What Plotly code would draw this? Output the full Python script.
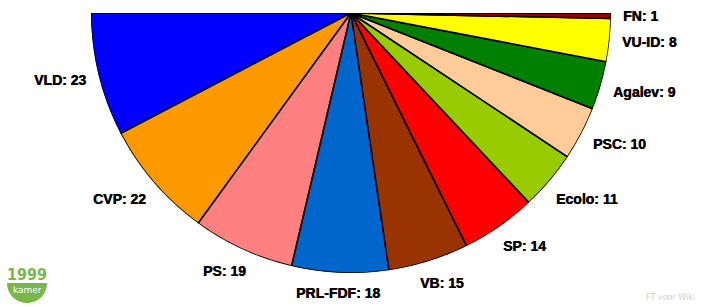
import plotly.graph_objects as go
import numpy as np

parties = ["VLD", "CVP", "PS", "PRL-FDF", "VB", "SP", "Ecolo", "PSC", "Agalev", "VU-ID", "FN"]
seats = [23, 22, 19, 18, 15, 14, 11, 10, 9, 8, 1]
colors = ["#0000FF", "#FF9900", "#FF8080", "#0066CC", "#993300", "#FF0000",
          "#99CC00", "#FFCC99", "#008000", "#FFFF00", "#990000"]

W, H = 703, 307
FONT = "Liberation Sans"
FONT_SIZE = 14
total = sum(seats)
deg_per = 180.0 / total
cum = np.concatenate([[0], np.cumsum(seats)[:-1]])
mids = 180 + (cum + np.array(seats) / 2.0) * deg_per
widths = np.array(seats) * deg_per

# pie geometry in pixels (polar domain)
PL, PR, PT = 91, 611, 13
R = (PR - PL) / 2.0
CX, CY = (PL + PR) / 2.0, PT

def px(x):
    return x / W

def py(y):
    return 1 - y / H

# approximate Liberation Sans Bold advance widths (em fraction) for label sizing
ADV = {"A": .722, "B": .722, "C": .722, "D": .722, "E": .667, "F": .611, "G": .778,
       "I": .278, "L": .611, "N": .722, "P": .667, "R": .722, "S": .667, "U": .722,
       "V": .667, "a": .556, "c": .556, "e": .556, "g": .611, "l": .278, "o": .611,
       "v": .556, ":": .333, " ": .278, "-": .333}

def text_w(s):
    return sum(ADV.get(c, .556) for c in s) * FONT_SIZE

fig = go.Figure()
fig.add_trace(go.Barpolar(
    r=[1] * len(seats), theta=mids, width=widths,
    marker=dict(color=colors, line=dict(color="black", width=1.6)),
    hoverinfo="skip", showlegend=False,
))

fig.update_layout(
    width=W, height=H, margin=dict(l=0, r=0, t=0, b=0),
    paper_bgcolor="white", plot_bgcolor="white",
    polar=dict(
        domain=dict(x=[px(PL), px(PR)], y=[py(PT + R), py(PT)]),
        sector=[180, 360], bgcolor="rgba(0,0,0,0)", hole=0,
        radialaxis=dict(visible=False, range=[0, 1]),
        angularaxis=dict(visible=False, direction="counterclockwise", rotation=0),
        bargap=0,
    ),
)

gap = 12
hh = 7
for p, s, m in zip(parties, seats, mids):
    lab = f"{p}: {s}"
    a = text_w(lab) / 2
    t = np.deg2rad(m)
    c, sn = np.cos(t), np.sin(t)
    d = R + gap + a * abs(c) + hh * abs(sn)
    t2 = np.deg2rad(m + 2.0 * np.sin(np.deg2rad(2 * (m - 270))))
    x = CX + d * np.cos(t2)
    y = CY - d * np.sin(t2)
    fig.add_annotation(x=px(x), y=py(y), xref="paper", yref="paper", text=f"<b>{lab}</b>",
                       showarrow=False, xanchor="center", yanchor="middle",
                       font=dict(family=FONT, size=FONT_SIZE, color="black",
                                 shadow="0.5px 0 0 #000"))

# logo half-disc
x0, x1, yt, r = 7, 47, 283, 20
cx = (x0 + x1) / 2
k = 0.5523 * r
path = (f"M {px(x0)},{py(yt)} L {px(x1)},{py(yt)} "
        f"C {px(x1)},{py(yt + k)} {px(cx + k)},{py(yt + r)} {px(cx)},{py(yt + r)} "
        f"C {px(cx - k)},{py(yt + r)} {px(x0)},{py(yt + k)} {px(x0)},{py(yt)} Z")
fig.add_shape(type="path", path=path, xref="paper", yref="paper",
              fillcolor="#7AB648", line=dict(width=0))
fig.add_annotation(x=px(27), y=py(274.5), xref="paper", yref="paper", text="<b>1999</b>",
                   showarrow=False, xanchor="center", yanchor="middle",
                   font=dict(family="DejaVu Sans Condensed", size=16, color="#7AB648"))
fig.add_annotation(x=px(27), y=py(290), xref="paper", yref="paper", text="kamer",
                   showarrow=False, xanchor="center", yanchor="middle",
                   font=dict(family="DejaVu Sans", size=9, color="white"))
fig.add_annotation(x=px(697), y=py(297), xref="paper", yref="paper", text="FT voor Wiki",
                   showarrow=False, xanchor="right", yanchor="middle",
                   font=dict(family="DejaVu Sans", size=8, color="#D0D0D0"))

fig.write_html("out.html")
